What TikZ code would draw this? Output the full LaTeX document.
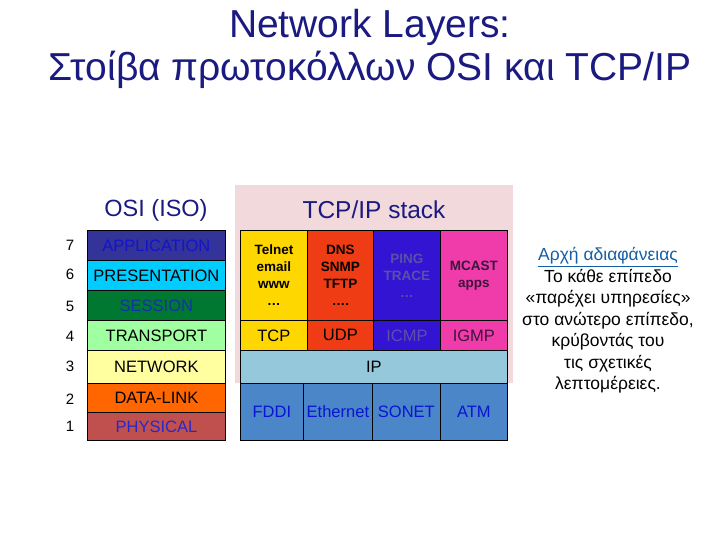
\documentclass[tikz,border=0pt]{standalone}
\usepackage{fontspec}
\setmainfont{Liberation Sans}
\begin{document}
\begin{tikzpicture}[x=1pt,y=-1pt,
 cell/.style={draw=black,line width=0.8pt,anchor=north west,inner sep=0pt,align=center,font=\fontsize{16.5}{17}\selectfont},
 small/.style={font=\fontsize{13.5}{17}\selectfont\bfseries},
 num/.style={font=\fontsize{15}{16}\selectfont}]
\definecolor{ttl}{HTML}{1A1A80}
\useasboundingbox (0,0) rectangle (720,540);
\node (t1) at (370,27) {\color{ttl}\fontsize{39}{42}\selectfont Network Layers:};
\node (t2) at (370,70) {\color{ttl}\fontsize{39}{42}\selectfont Στοίβα πρωτοκόλλων OSI και TCP/IP};
\fill[fill={rgb,255:red,242;green,217;blue,220}] (235,185) rectangle (513,383);
\node (osit) at (156,210) {\color{ttl}\fontsize{23.5}{25}\selectfont OSI (ISO)};
\node (tcpt) at (374,210) {\color{ttl}\fontsize{24.5}{26}\selectfont TCP/IP stack};
% OSI
\node[cell,fill={rgb,255:red,51;green,51;blue,153},text={rgb,255:red,20;green,20;blue,200},minimum width=138,minimum height=30] (app) at (87,230) {APPLICATION};
\node[cell,fill={rgb,255:red,0;green,204;blue,255},minimum width=138,minimum height=30] (pre) at (87,260) {PRESENTATION};
\node[cell,fill={rgb,255:red,0;green,120;blue,50},text={rgb,255:red,20;green,50;blue,170},minimum width=138,minimum height=30] (ses) at (87,290) {SESSION};
\node[cell,fill={rgb,255:red,160;green,255;blue,160},minimum width=138,minimum height=30] (tra) at (87,320) {TRANSPORT};
\node[cell,fill={rgb,255:red,255;green,255;blue,160},minimum width=138,minimum height=33] (net) at (87,350) {NETWORK};
\node[cell,fill={rgb,255:red,255;green,102;blue,0},minimum width=138,minimum height=29] (dl) at (87,383) {DATA-LINK};
\node[cell,fill={rgb,255:red,192;green,80;blue,77},text={rgb,255:red,40;green,40;blue,200},minimum width=138,minimum height=28] (phy) at (87,412) {PHYSICAL};
\node[num] (n7) at (70,245) {7};
\node[num] (n6) at (70,274) {6};
\node[num] (n5) at (70,306) {5};
\node[num] (n4) at (70,336) {4};
\node[num] (n3) at (70,366) {3};
\node[num] (n2) at (70,399) {2};
\node[num] (n1) at (70,426) {1};
% TCP/IP apps
\node[cell,small,fill={rgb,255:red,255;green,215;blue,0},minimum width=67,minimum height=90] (telnet) at (240,230) {Telnet\\email\\www\\\dots};
\node[cell,small,fill={rgb,255:red,240;green,60;blue,20},minimum width=66,minimum height=90] (dns) at (307,230) {DNS\\SNMP\\TFTP\\\dots.};
\node[cell,small,fill={rgb,255:red,50;green,20;blue,210},text={rgb,255:red,90;green,80;blue,170},minimum width=67,minimum height=90] (ping) at (373,230) {PING\\TRACE\\\dots};
\node[cell,small,fill={rgb,255:red,240;green,60;blue,170},text={rgb,255:red,60;green,20;blue,60},minimum width=67,minimum height=90] (mcast) at (440,230) {MCAST\\apps};
\node[cell,fill={rgb,255:red,255;green,215;blue,0},minimum width=67,minimum height=30] (tcp) at (240,320) {TCP};
\node[cell,fill={rgb,255:red,240;green,60;blue,20},minimum width=66,minimum height=30] (udp) at (307,320) {UDP};
\node[cell,fill={rgb,255:red,50;green,20;blue,210},text={rgb,255:red,90;green,80;blue,170},minimum width=67,minimum height=30] (icmp) at (373,320) {ICMP};
\node[cell,fill={rgb,255:red,240;green,60;blue,170},text={rgb,255:red,60;green,20;blue,60},minimum width=67,minimum height=30] (igmp) at (440,320) {IGMP};
\node[cell,fill={rgb,255:red,150;green,200;blue,220},minimum width=267,minimum height=33] (ip) at (240,350) {IP};
\node[cell,fill={rgb,255:red,74;green,134;blue,200},text={rgb,255:red,10;green,20;blue,210},minimum width=63,minimum height=57] (fddi) at (240,383) {FDDI};
\node[cell,fill={rgb,255:red,74;green,134;blue,200},text={rgb,255:red,10;green,20;blue,210},minimum width=69,minimum height=57] (eth) at (303,383) {Ethernet};
\node[cell,fill={rgb,255:red,74;green,134;blue,200},text={rgb,255:red,10;green,20;blue,210},minimum width=68,minimum height=57] (sonet) at (372,383) {SONET};
\node[cell,fill={rgb,255:red,74;green,134;blue,200},text={rgb,255:red,10;green,20;blue,210},minimum width=67,minimum height=57] (atm) at (440,383) {ATM};
% right text
\node[align=center,font=\fontsize{17.5}{21.5}\selectfont,anchor=north] (rt) at (608,244) {{\color{ttl!70!cyan}\underline{Αρχή αδιαφάνειας}}\\Το κάθε επίπεδο\\«παρέχει υπηρεσίες»\\στο ανώτερο επίπεδο,\\κρύβοντάς του\\τις σχετικές\\λεπτομέρειες.};
\end{tikzpicture}
\end{document}
